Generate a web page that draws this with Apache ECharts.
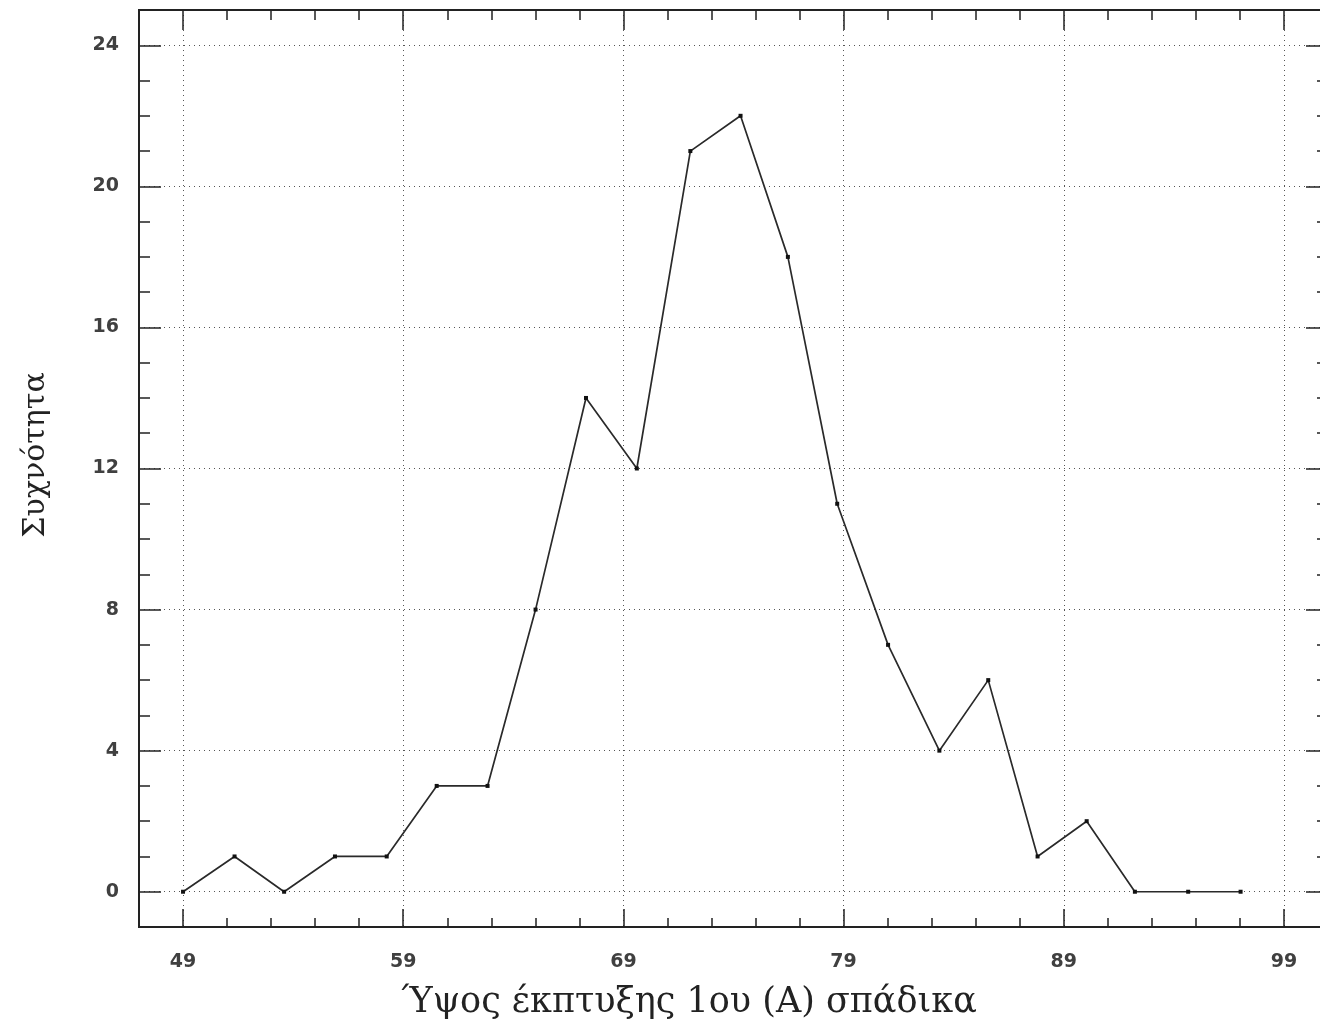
<!DOCTYPE html>
<html>
<head>
<meta charset="utf-8">
<title>Συχνότητα</title>
<script src="https://cdn.jsdelivr.net/npm/echarts@6/dist/echarts.min.js"></script>
<style>
  html, body { margin: 0; padding: 0; background: #ffffff; }
  #chart { width: 1320px; height: 1028px; }
</style>
</head>
<body>
<div id="chart"></div>
<script>
// Height of first spadix (class centres) and the frequency of each class
const heights = [49, 51.34, 53.59, 55.90, 58.25, 60.52, 62.83, 65.01, 67.30, 69.61, 72.04,
                 74.32, 76.47, 78.71, 81.02, 83.35, 85.57, 87.81, 90.04, 92.23, 94.65, 97.03];
const frequencies = [0, 1, 0, 1, 1, 3, 3, 8, 14, 12, 21, 22, 18, 11, 7, 4, 6, 1, 2, 0, 0, 0];

// Tick positions
const xMajorTicks = [49, 59, 69, 79, 89, 99];
const xMinorTicks = [51, 53, 55, 57, 61, 63, 65, 67, 71, 73, 75, 77, 81, 83, 85, 87, 91, 93, 95, 97];
const yMajorTicks = [0, 4, 8, 12, 16, 20, 24];
const yMinorTicks = [1, 2, 3, 5, 6, 7, 9, 10, 11, 13, 14, 15, 17, 18, 19, 21, 22, 23];

const xTitle = 'Ύψος έκπτυξης 1ου (Α) σπάδικα';
const yTitle = 'Συχνότητα';

const X_MIN = 47, X_MAX = 101, Y_MIN = -1, Y_MAX = 25;
const INK = '#222222';
const labelFont = { fontFamily: 'DejaVu Sans', fontWeight: 'bold', fontSize: 19, color: '#404040' };
const gridDots = { color: '#555555', width: 1, type: [1, 4] };

function xAxisDef(position, ticks, len, withLabels) {
  return {
    type: 'value', position, min: X_MIN, max: X_MAX,
    axisLine: { show: true, onZero: false, lineStyle: { color: INK, width: 2 } },
    axisTick: { show: true, inside: true, length: len, customValues: ticks,
                lineStyle: { color: INK, width: 1.5 } },
    axisLabel: withLabels
      ? Object.assign({ show: true, margin: 26, customValues: ticks }, labelFont)
      : { show: false },
    splitLine: withLabels ? { show: true, lineStyle: gridDots } : { show: false },
    axisPointer: { show: false }
  };
}

function yAxisDef(position, ticks, len, withLabels) {
  return {
    type: 'value', position, min: Y_MIN, max: Y_MAX,
    axisLine: { show: true, onZero: false, lineStyle: { color: INK, width: 2 } },
    axisTick: { show: true, inside: true, length: len, customValues: ticks,
                lineStyle: { color: INK, width: 1.5 } },
    axisLabel: withLabels
      ? Object.assign({ show: true, margin: 20, customValues: ticks }, labelFont)
      : { show: false },
    splitLine: withLabels ? { show: true, lineStyle: gridDots } : { show: false },
    axisPointer: { show: false }
  };
}

const chart = echarts.init(document.getElementById('chart'), null, { renderer: 'canvas' });

chart.setOption({
  animation: false,
  backgroundColor: '#ffffff',
  grid: { left: 139, top: 10, width: 1189, height: 917, containLabel: false, outerBoundsMode: 'none' },
  xAxis: [
    xAxisDef('bottom', xMajorTicks, 18, true),
    xAxisDef('bottom', xMinorTicks, 9, false),
    xAxisDef('top', xMajorTicks, 20, false),
    xAxisDef('top', xMinorTicks, 10, false)
  ],
  yAxis: [
    yAxisDef('left', yMajorTicks, 22, true),
    yAxisDef('left', yMinorTicks, 11, false),
    yAxisDef('right', yMajorTicks, 22, false),
    yAxisDef('right', yMinorTicks, 11, false)
  ],
  graphic: [
    {
      type: 'text', x: 689, y: 1003,
      style: { text: xTitle, fontFamily: 'DejaVu Serif', fontSize: 35, fill: INK,
               textAlign: 'center', textVerticalAlign: 'middle' }
    },
    {
      type: 'text', x: 36, y: 455, rotation: Math.PI / 2,
      style: { text: yTitle, fontFamily: 'DejaVu Serif', fontSize: 30, fill: INK,
               textAlign: 'center', textVerticalAlign: 'middle' }
    }
  ],
  series: [{
    type: 'line',
    xAxisIndex: 0, yAxisIndex: 0,
    data: heights.map((h, i) => [h, frequencies[i]]),
    symbol: 'rect', symbolSize: 4, showSymbol: true,
    itemStyle: { color: '#111111' },
    lineStyle: { color: '#2a2a2a', width: 1.7 },
    smooth: false
  }]
});
</script>
</body>
</html>
